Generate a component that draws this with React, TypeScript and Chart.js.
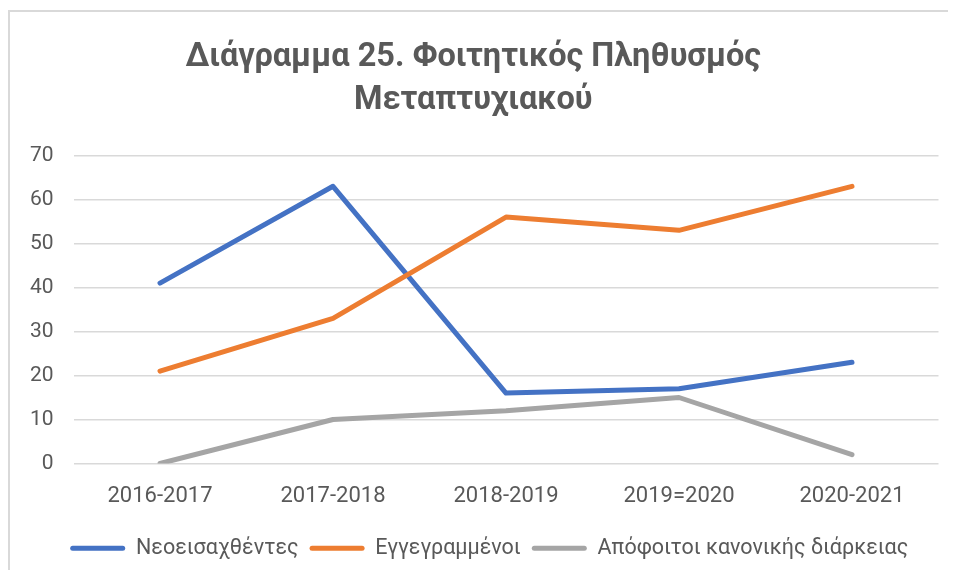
import React, { useEffect, useRef } from "react";
import { Chart, registerables } from "chart.js";

Chart.register(...registerables);

const categories = ["2016-2017", "2017-2018", "2018-2019", "2019=2020", "2020-2021"];
const seriesNames = ["Νεοεισαχθέντες", "Εγγεγραμμένοι", "Απόφοιτοι κανονικής διάρκειας"];
const newStudents = [41, 63, 16, 17, 23];
const enrolled = [21, 33, 56, 53, 63];
const graduates = [0, 10, 12, 15, 2];
const seriesColors = ["#4472C4", "#ED7D31", "#A5A5A5"];
const titleLines = ["Διάγραμμα 25. Φοιτητικός Πληθυσμός", "Μεταπτυχιακού"];
const yMin = 0;
const yMax = 70;
const yStep = 10;

const FONT = "Roboto";
const TEXT = "#595959";
const GRID = "#d9d9d9";

const legendShift = {
  id: "legendShift",
  afterLayout(chart: any) {
    if (chart.legend) {
      chart.legend.left += 16;
      chart.legend.right += 16;
    }
  },
};

const frame = {
  id: "frame",
  beforeDraw(chart: any) {
    const ctx = chart.ctx;
    ctx.save();
    ctx.fillStyle = "#d9d9d9";
    ctx.fillRect(0, 2, 2, chart.height);
    ctx.fillRect(0, 2, chart.width, 2);
    ctx.restore();
  },
};

export default function App() {
  const ref = useRef<HTMLCanvasElement | null>(null);

  useEffect(() => {
    if (!ref.current) return;
    const values = [newStudents, enrolled, graduates];
    const chart = new Chart(ref.current, {
      type: "line",
      data: {
        labels: categories,
        datasets: values.map((v, i) => ({
          label: seriesNames[i],
          data: v,
          borderColor: seriesColors[i],
          backgroundColor: seriesColors[i],
          borderWidth: 5,
          pointRadius: 0,
          pointHoverRadius: 0,
          tension: 0,
          borderCapStyle: "round" as const,
          borderJoinStyle: "round" as const,
          order: 3 - i,
        })),
      },
      plugins: [legendShift, frame],
      options: {
        responsive: false,
        animation: false,
        layout: { padding: { left: 0, right: 17.5, top: 0, bottom: 1 } },
        plugins: {
          title: {
            display: true,
            text: titleLines,
            color: TEXT,
            font: { family: FONT, size: 32.5, weight: "bold", lineHeight: 1.3 },
            padding: { top: 29, bottom: 34 },
          },
          legend: {
            position: "bottom",
            labels: {
              color: TEXT,
              font: { family: FONT, size: 21.5 },
              boxWidth: 55,
              boxHeight: 5,
              padding: 11,
              useBorderRadius: true,
              borderRadius: 2.5,
              sort: (a: any, b: any) => a.datasetIndex - b.datasetIndex,
              generateLabels: (c: any) =>
                Chart.defaults.plugins.legend.labels.generateLabels(c).map((it: any) => ({
                  ...it,
                  lineWidth: 0,
                  fillStyle: it.strokeStyle,
                })),
            },
          },
          tooltip: { enabled: false },
        },
        scales: {
          x: {
            offset: true,
            grid: { display: false, drawTicks: false },
            border: { display: false },
            ticks: { color: TEXT, font: { family: FONT, size: 22 }, padding: 20, maxRotation: 0 },
            afterFit: (s: any) => {
              s.height = 63;
            },
          },
          y: {
            min: yMin,
            max: yMax,
            grid: { color: GRID, lineWidth: 1.5, drawTicks: false },
            border: { display: false },
            ticks: { stepSize: yStep, color: TEXT, font: { family: FONT, size: 21 }, padding: 20 },
            afterFit: (s: any) => {
              s.width = 65.5;
            },
          },
        },
      },
    });
    return () => chart.destroy();
  }, []);

  return (
    <div style={{ width: 948, height: 562 }}>
      <canvas ref={ref} width={948} height={562} style={{ display: "block", width: 948, height: 562 }} />
    </div>
  );
}
